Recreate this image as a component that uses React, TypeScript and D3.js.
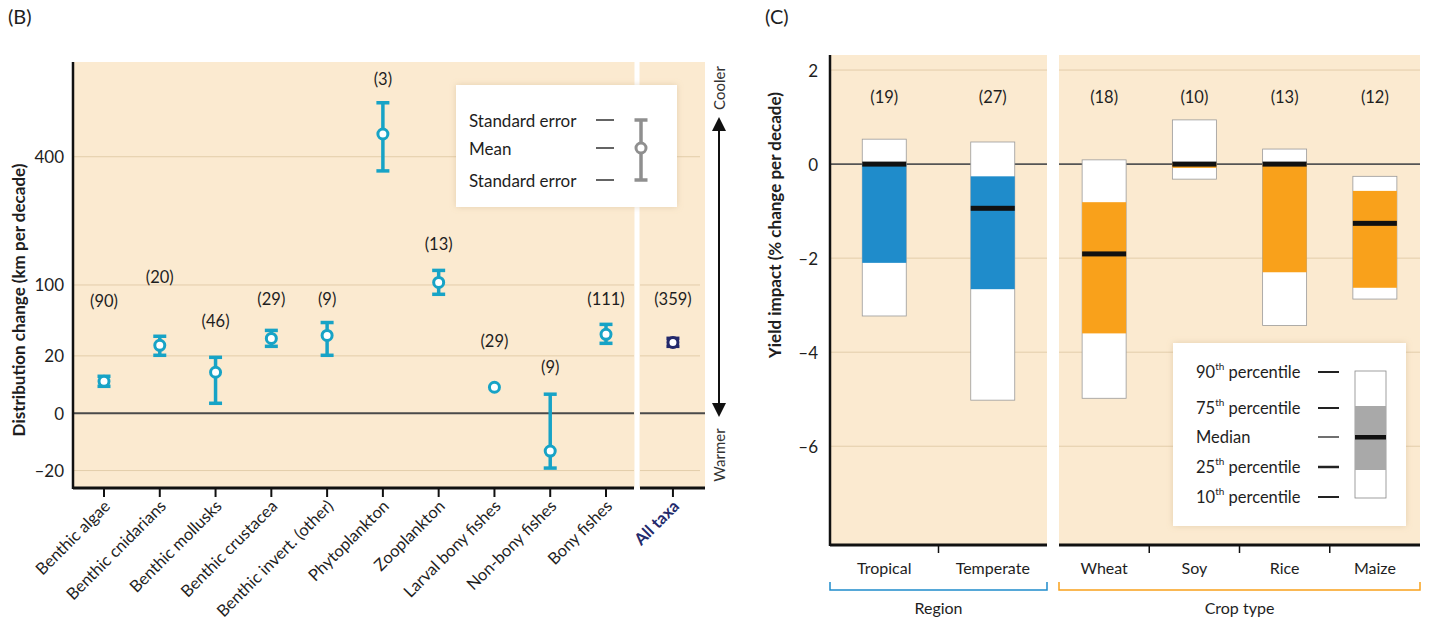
import React from 'react';
import * as d3 from 'd3';

// ---------- Panel B data ----------
const taxa = [
  'Benthic algae', 'Benthic cnidarians', 'Benthic mollusks', 'Benthic crustacea',
  'Benthic invert. (other)', 'Phytoplankton', 'Zooplankton', 'Larval bony fishes',
  'Non-bony fishes', 'Bony fishes',
];
const taxaMean = [6.2, 28, 10.2, 34, 36.8, 474, 104, 4.1, -8.7, 37.8];
const taxaSeHigh = [8.3, 36, 19, 41.7, 50, 586, 124, 4.1, 2.2, 48];
const taxaSeLow = [4.4, 20.4, 0.6, 27.2, 20.4, 357, 86, 4.1, -18.3, 29.7];
const taxaN = [90, 20, 46, 29, 9, 3, 13, 29, 9, 111];
const taxaLabelAt = [77, 112, 52, 80, 80, 680, 175, 32, 12.8, 80];

const allTaxaName = 'All taxa';
const allTaxaMean = 30.5;
const allTaxaHigh = 34.1;
const allTaxaLow = 27.2;
const allTaxaN = 359;
const allTaxaLabelAt = 80;

const bTicks = [-20, 0, 20, 100, 400];

// ---------- Panel C data ----------
const regions = ['Tropical', 'Temperate'];
const regionP90 = [0.53, 0.47];
const regionP75 = [0, -0.26];
const regionMed = [0, -0.94];
const regionP25 = [-2.1, -2.66];
const regionP10 = [-3.23, -5.02];
const regionN = [19, 27];

const crops = ['Wheat', 'Soy', 'Rice', 'Maize'];
const cropP90 = [0.09, 0.94, 0.32, -0.26];
const cropP75 = [-0.81, 0.02, 0, -0.57];
const cropMed = [-1.91, 0, 0, -1.26];
const cropP25 = [-3.6, -0.08, -2.3, -2.63];
const cropP10 = [-4.98, -0.32, -3.43, -2.87];
const cropN = [18, 10, 13, 12];

const cTicks = [2, 0, -2, -4, -6];

const FONT = "Lato, 'Open Sans', sans-serif";
const BG = '#FBEAD0';
const GRID = '#E3CDAA';
const CYAN = '#17A3C6';
const NAVY = '#23296B';
const BLUE = '#1F8CCB';
const ORANGE = '#F9A11B';
const TXT = '#1e1e1e';

const fmt = (v: number) => (v < 0 ? '\u2013' + Math.abs(v) : String(v));

function ErrorMark({ x, yMean, yHi, yLo, color }: { x: number; yMean: number; yHi: number; yLo: number; color: string }) {
  const showBar = Math.abs(yLo - yHi) > 3;
  return (
    <g>
      {showBar && (
        <>
          <line x1={x} x2={x} y1={yHi} y2={yLo} stroke={color} strokeWidth={3.5} />
          <line x1={x - 6.5} x2={x + 6.5} y1={yHi} y2={yHi} stroke={color} strokeWidth={3.5} />
          <line x1={x - 6.5} x2={x + 6.5} y1={yLo} y2={yLo} stroke={color} strokeWidth={3.5} />
        </>
      )}
      <circle cx={x} cy={yMean} r={5} fill="#fff" stroke={color} strokeWidth={3} />
    </g>
  );
}

export default function App() {
  const W = 1435, H = 628;

  // ---- Panel B scales ----
  const bTop = 62, bBottom = 488, bLeft = 73, bRight = 705, bGap = 637;
  const yB = d3.scaleSqrt().domain([-34, 750]).range([bBottom, bTop]);
  const xB = d3.scalePoint<string>().domain(taxa).range([104, 606]);
  const stepB = xB.step();
  const xAll = (xB(taxa[taxa.length - 1]) as number) + stepB * 1.2;

  // ---- Panel C scales ----
  const cTop = 55, cBottom = 545, cLeft = 830, cRegionRight = 1047, cCropLeft = 1059, cRight = 1420;
  const yC = d3.scaleLinear().domain([-8.1, 2.32]).range([cBottom, cTop]);
  const xRegion = d3.scaleBand<string>().domain(regions).range([cLeft, cRegionRight]);
  const xCrop = d3.scaleBand<string>().domain(crops).range([cCropLeft, cRight]);
  const barW = 44;

  const boxes = [
    ...regions.map((r, i) => ({ name: r, cx: (xRegion(r) as number) + xRegion.bandwidth() / 2, p90: regionP90[i], p75: regionP75[i], med: regionMed[i], p25: regionP25[i], p10: regionP10[i], n: regionN[i], color: BLUE })),
    ...crops.map((c, i) => ({ name: c, cx: (xCrop(c) as number) + xCrop.bandwidth() / 2, p90: cropP90[i], p75: cropP75[i], med: cropMed[i], p25: cropP25[i], p10: cropP10[i], n: cropN[i], color: ORANGE })),
  ];

  const cTickXs = [
    xRegion(regions[1]) as number,
    ...crops.slice(1).map((c) => xCrop(c) as number),
  ];

  const legC = [
    { main: '90', sup: 'th', rest: ' percentile', y: 372, w: 2 },
    { main: '75', sup: 'th', rest: ' percentile', y: 408, w: 2 },
    { main: 'Median', sup: '', rest: '', y: 437, w: 1.3 },
    { main: '25', sup: 'th', rest: ' percentile', y: 467, w: 2.5 },
    { main: '10', sup: 'th', rest: ' percentile', y: 497, w: 2 },
  ];

  return (
    <svg width={W} height={H} viewBox={`0 0 ${W} ${H}`} style={{ position: 'absolute', left: 0, top: 0, background: '#fff' }} fontFamily={FONT}>
      <defs>
        <filter id="sh" x="-10%" y="-10%" width="120%" height="120%">
          <feDropShadow dx="0" dy="0" stdDeviation="3" floodColor="#b89a70" floodOpacity="0.35" />
        </filter>
        <marker id="ah" viewBox="0 0 10 10" refX="5" refY="5" markerWidth="7" markerHeight="7" orient="auto-start-reverse">
          <path d="M0,0 L10,5 L0,10 z" fill="#111" />
        </marker>
      </defs>

      {/* ================= Panel B ================= */}
      <text x={8} y={24} fontSize={20} fill={TXT}>(B)</text>
      <rect x={bLeft} y={bTop} width={bRight - bLeft} height={bBottom - bTop} fill={BG} />
      <rect x={bGap - 2.5} y={bTop} width={5} height={bBottom - bTop + 2} fill="#fff" />

      {bTicks.filter((t) => t !== 0).map((t) => (
        <g key={t}>
          <line x1={bLeft} x2={bGap - 3} y1={yB(t)} y2={yB(t)} stroke={GRID} strokeWidth={1} />
          <line x1={bGap + 3} x2={bRight - 5} y1={yB(t)} y2={yB(t)} stroke={GRID} strokeWidth={1} />
        </g>
      ))}
      <line x1={bLeft} x2={bGap - 3} y1={yB(0)} y2={yB(0)} stroke="#4a4a4a" strokeWidth={2} />
      <line x1={bGap + 3} x2={bRight} y1={yB(0)} y2={yB(0)} stroke="#4a4a4a" strokeWidth={2} />

      {bTicks.map((t) => (
        <text key={t} x={64} y={yB(t)} textAnchor="end" dominantBaseline="central" fontSize={17} fill={TXT}>{fmt(t)}</text>
      ))}

      <text transform={`translate(18,${(bTop + bBottom) / 2 + 25}) rotate(-90)`} textAnchor="middle" dominantBaseline="central" fontSize={17} fontWeight="bold" fill={TXT}>
        Distribution change (km per decade)
      </text>

      {/* legend B */}
      <rect x={456} y={85} width={221} height={122} fill="#fff" filter="url(#sh)" />
      <text x={469} y={120} dominantBaseline="central" fontSize={17} fill={TXT}>Standard error</text>
      <text x={469} y={148} dominantBaseline="central" fontSize={17} fill={TXT}>Mean</text>
      <text x={469} y={180} dominantBaseline="central" fontSize={17} fill={TXT}>Standard error</text>
      {[120, 148, 180].map((y) => (
        <line key={y} x1={596} x2={614} y1={y} y2={y} stroke="#222" strokeWidth={1.4} />
      ))}
      <ErrorMark x={641} yMean={148} yHi={120} yLo={180} color="#8f8f8f" />

      {/* data B */}
      {taxa.map((t, i) => {
        const x = xB(t) as number;
        return (
          <g key={t}>
            <ErrorMark x={x} yMean={yB(taxaMean[i])} yHi={yB(taxaSeHigh[i])} yLo={yB(taxaSeLow[i])} color={CYAN} />
            <text x={x} y={yB(taxaLabelAt[i])} textAnchor="middle" dominantBaseline="central" fontSize={16.5} fill={TXT}>({taxaN[i]})</text>
          </g>
        );
      })}
      <ErrorMark x={xAll} yMean={yB(allTaxaMean)} yHi={yB(allTaxaHigh)} yLo={yB(allTaxaLow)} color={NAVY} />
      <text x={xAll} y={yB(allTaxaLabelAt)} textAnchor="middle" dominantBaseline="central" fontSize={16.5} fill={TXT}>({allTaxaN})</text>

      {/* axes B */}
      <line x1={bLeft} x2={bLeft} y1={bTop} y2={bBottom + 1} stroke="#111" strokeWidth={2.5} />
      <line x1={bLeft} x2={bGap - 3} y1={bBottom} y2={bBottom} stroke="#111" strokeWidth={3} />
      <line x1={bGap + 3} x2={bRight} y1={bBottom} y2={bBottom} stroke="#111" strokeWidth={3} />
      {[...taxa.map((t) => xB(t) as number), xAll].map((x, i) => (
        <line key={i} x1={x} x2={x} y1={bBottom} y2={bBottom + 9} stroke="#111" strokeWidth={2} />
      ))}
      {taxa.map((t) => (
        <text key={t} transform={`translate(${(xB(t) as number) + 3},${bBottom + 15}) rotate(-45)`} textAnchor="end" dominantBaseline="central" fontSize={16.5} fill={TXT}>{t}</text>
      ))}
      <text transform={`translate(${xAll + 3},${bBottom + 15}) rotate(-45)`} textAnchor="end" dominantBaseline="central" fontSize={16.5} fill={NAVY} fontWeight="bold">{allTaxaName}</text>

      {/* cooler / warmer */}
      <line x1={719} x2={719} y1={124} y2={410} stroke="#111" strokeWidth={2} markerStart="url(#ah)" markerEnd="url(#ah)" />
      <text transform="translate(719,88) rotate(-90)" textAnchor="middle" dominantBaseline="central" fontSize={15} fill="#333">Cooler</text>
      <text transform="translate(719,455) rotate(-90)" textAnchor="middle" dominantBaseline="central" fontSize={15} fill="#333">Warmer</text>

      {/* ================= Panel C ================= */}
      <text x={765} y={24} fontSize={20} fill={TXT}>(C)</text>
      <rect x={cLeft} y={cTop} width={cRegionRight - cLeft} height={cBottom - cTop} fill={BG} />
      <rect x={cCropLeft} y={cTop} width={cRight - cCropLeft} height={cBottom - cTop} fill={BG} />

      {cTicks.filter((t) => t !== 0).map((t) => (
        <g key={t}>
          <line x1={cLeft} x2={cRegionRight} y1={yC(t)} y2={yC(t)} stroke={GRID} strokeWidth={1} />
          <line x1={cCropLeft} x2={cRight} y1={yC(t)} y2={yC(t)} stroke={GRID} strokeWidth={1} />
        </g>
      ))}
      <line x1={cLeft} x2={cRegionRight} y1={yC(0)} y2={yC(0)} stroke="#555" strokeWidth={1.6} />
      <line x1={cCropLeft} x2={cRight} y1={yC(0)} y2={yC(0)} stroke="#555" strokeWidth={1.6} />

      {cTicks.map((t) => (
        <text key={t} x={818} y={yC(t)} textAnchor="end" dominantBaseline="central" fontSize={17} fill={TXT}>{fmt(t)}</text>
      ))}
      <text transform={`translate(774,${yC(-1.3)}) rotate(-90)`} textAnchor="middle" dominantBaseline="central" fontSize={17} fontWeight="bold" fill={TXT}>
        Yield impact (% change per decade)
      </text>

      {boxes.map((b) => (
        <g key={b.name}>
          <rect x={b.cx - barW / 2} y={yC(b.p90)} width={barW} height={yC(b.p10) - yC(b.p90)} fill="#fff" stroke="#9a9a9a" strokeWidth={0.8} />
          <rect x={b.cx - barW / 2} y={yC(b.p75)} width={barW} height={yC(b.p25) - yC(b.p75)} fill={b.color} />
          <rect x={b.cx - barW / 2} y={yC(b.med) - 2.5} width={barW} height={5} fill="#111" />
          <text x={b.cx} y={yC(2) + 27} textAnchor="middle" dominantBaseline="central" fontSize={16.5} fill={TXT}>({b.n})</text>
          <text x={b.cx} y={567} textAnchor="middle" dominantBaseline="central" fontSize={16} fill={TXT}>{b.name}</text>
        </g>
      ))}

      {/* legend C */}
      <rect x={1173} y={343} width={233} height={183} fill="#fff" filter="url(#sh)" />
      {legC.map((l) => (
        <g key={l.y}>
          <text x={1196} y={l.y} dominantBaseline="central" fontSize={16.5} fill={TXT}>
            {l.main}
            {l.sup && <tspan fontSize={10} dy={-6}>{l.sup}</tspan>}
            {l.rest && <tspan dy={l.sup ? 6 : 0}>{l.rest}</tspan>}
          </text>
          <line x1={1318} x2={1339} y1={l.y} y2={l.y} stroke="#222" strokeWidth={l.w} />
        </g>
      ))}
      <rect x={1355} y={371} width={31} height={127} fill="#fff" stroke="#888" strokeWidth={0.8} />
      <rect x={1355} y={406} width={31} height={64} fill="#a9a9a9" />
      <rect x={1355} y={435} width={31} height={4.5} fill="#111" />

      {/* axes C */}
      <line x1={cLeft} x2={cLeft} y1={cTop} y2={cBottom + 1} stroke="#111" strokeWidth={2.5} />
      <line x1={cLeft} x2={cRegionRight} y1={cBottom} y2={cBottom} stroke="#111" strokeWidth={3} />
      <line x1={cCropLeft} x2={cRight} y1={cBottom} y2={cBottom} stroke="#111" strokeWidth={3} />
      {cTickXs.map((x, i) => (
        <line key={i} x1={x} x2={x} y1={cBottom} y2={cBottom + 8} stroke="#111" strokeWidth={1.5} />
      ))}

      {/* brackets */}
      <path d={`M${cLeft},582 V590 H${cRegionRight} V582`} fill="none" stroke={BLUE} strokeWidth={1.5} />
      <path d={`M${cCropLeft},582 V590 H${cRight} V582`} fill="none" stroke={ORANGE} strokeWidth={1.5} />
      <text x={(cLeft + cRegionRight) / 2} y={607} textAnchor="middle" dominantBaseline="central" fontSize={16} fill={TXT}>Region</text>
      <text x={(cCropLeft + cRight) / 2} y={607} textAnchor="middle" dominantBaseline="central" fontSize={16} fill={TXT}>Crop type</text>
    </svg>
  );
}
